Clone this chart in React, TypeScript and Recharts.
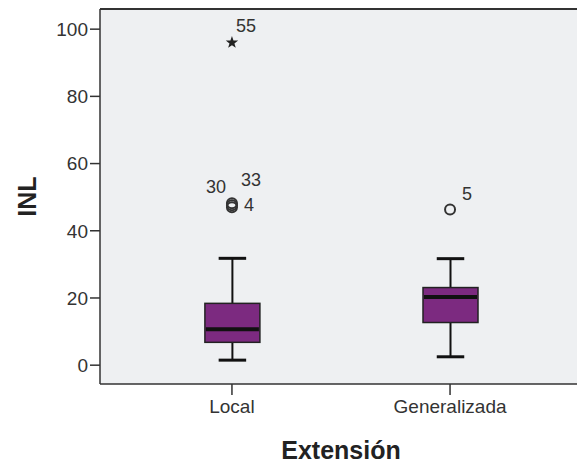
import { ComposedChart, Bar, Scatter, XAxis, YAxis, CartesianGrid } from 'recharts';

// Boxplot INL por Extensión (SPSS style)
const categories = ['Local', 'Generalizada'];
const whiskerLow = [1.5, 2.5];
const quartile1 = [6.8, 12.7];
const medians = [10.7, 20.3];
const quartile3 = [18.4, 23.1];
const whiskerHigh = [31.8, 31.7];

// outliers (case numbers as labelled in the plot)
const outlierGroup = ['Local', 'Local', 'Local', 'Local', 'Generalizada'];
const outlierValues = [96, 48.2, 47.6, 47.0, 46.3];
const outlierCases = ['55', '30', '33', '4', '5'];
const outlierExtreme = [true, false, false, false, false];

const yTicks = [0, 20, 40, 60, 80, 100];
const yDomain = [-5.6, 106];
// categories sit at 1 and 2 on a numeric x axis
const xDomain = [0.395, 2.605];
const xTicks = categories.map((_, i) => i + 1);

const data = categories.map((name, i) => ({
    pos: i + 1,
    name,
    low: whiskerLow[i],
    q1: quartile1[i],
    median: medians[i],
    q3: quartile3[i],
    high: whiskerHigh[i],
}));

const outliers = outlierValues.map((value, i) => ({
    pos: categories.indexOf(outlierGroup[i]) + 1,
    value,
    caseId: outlierCases[i],
    extreme: outlierExtreme[i],
}));

// where each case label sits relative to its marker
const labelOffset: Record<string, [number, number]> = {
    '55': [4, -11],
    '30': [-26, -10],
    '33': [9, -19],
    '4': [12, 4],
    '5': [12, -10],
};

const FONT = '"Liberation Sans", Arial, sans-serif';

const W = 577;
const H = 455;
const MARGIN = { top: 1, right: 3, bottom: 0, left: 0 };
const Y_AXIS_W = 92;
const X_AXIS_H = 79;

function starPath(cx: number, cy: number, r1: number, r2: number) {
    const pts: string[] = [];
    for (let k = 0; k < 10; k++) {
        const r = k % 2 === 0 ? r1 : r2;
        const a = -Math.PI / 2 + (k * Math.PI) / 5;
        pts.push(`${(cx + r * Math.cos(a)).toFixed(2)},${(cy + r * Math.sin(a)).toFixed(2)}`);
    }
    return `M${pts.join('L')}Z`;
}

function BoxShape(props: any) {
    const { x, y, width, height, payload } = props;
    const top = Math.min(y, y + height);
    const bottom = Math.max(y, y + height);
    const lo = payload.low;
    const hi = payload.high;
    const py = (v: number) => bottom - ((v - lo) / (hi - lo)) * (bottom - top);
    const cx = x + width / 2;
    const cap = width / 4;
    return (
        <g>
            <line x1={cx} x2={cx} y1={py(hi)} y2={py(payload.q3)} stroke="#111" strokeWidth={2} />
            <line x1={cx} x2={cx} y1={py(payload.q1)} y2={py(lo)} stroke="#111" strokeWidth={2} />
            <line x1={cx - cap} x2={cx + cap} y1={py(hi)} y2={py(hi)} stroke="#111" strokeWidth={3} />
            <line x1={cx - cap} x2={cx + cap} y1={py(lo)} y2={py(lo)} stroke="#111" strokeWidth={3} />
            <rect
                x={x}
                y={py(payload.q3)}
                width={width}
                height={py(payload.q1) - py(payload.q3)}
                fill="#7c2a80"
                stroke="#222"
                strokeWidth={1.5}
            />
            <line
                x1={x + 1}
                x2={x + width - 1}
                y1={py(payload.median)}
                y2={py(payload.median)}
                stroke="#111"
                strokeWidth={4}
            />
        </g>
    );
}

function OutlierMark(props: any) {
    const { cx, cy, payload } = props;
    if (cx == null || cy == null || isNaN(cx) || isNaN(cy)) return <g />;
    const [dx, dy] = labelOffset[payload.caseId] || [8, -8];
    return (
        <g>
            {payload.extreme ? (
                <path d={starPath(cx, cy, 6.5, 2.6)} fill="#222" />
            ) : (
                <circle cx={cx} cy={cy} r={5} fill="none" stroke="#333" strokeWidth={2} />
            )}
            <text x={cx + dx} y={cy + dy} fontSize={18} fontFamily={FONT} fill="#333">
                {payload.caseId}
            </text>
        </g>
    );
}

export default function App() {
    return (
        <div style={{ position: 'relative', width: W, height: H }}>
            <ComposedChart width={W} height={H} data={data} margin={MARGIN} style={{ fontFamily: FONT }}>
                <CartesianGrid fill="#eef0f2" horizontal={false} vertical={false} />
                <XAxis
                    dataKey="pos"
                    type="number"
                    domain={xDomain}
                    allowDataOverflow
                    ticks={xTicks}
                    tickFormatter={(v: number) => categories[v - 1] ?? ''}
                    height={X_AXIS_H}
                    tickSize={11}
                    tickMargin={5}
                    axisLine={{ stroke: '#333', strokeWidth: 1.5 }}
                    tickLine={{ stroke: '#333', strokeWidth: 1.5 }}
                    tick={{ fill: '#333', fontSize: 19, fontFamily: FONT }}
                    label={{
                        value: 'Extensión',
                        position: 'insideBottom',
                        offset: 4,
                        fill: '#222',
                        fontSize: 25,
                        fontWeight: 'bold',
                        fontFamily: FONT,
                    }}
                />
                <YAxis
                    type="number"
                    domain={yDomain}
                    allowDataOverflow
                    ticks={yTicks}
                    width={Y_AXIS_W}
                    tickSize={10}
                    tickMargin={2}
                    axisLine={{ stroke: '#333', strokeWidth: 1.5 }}
                    tickLine={{ stroke: '#333', strokeWidth: 1.5 }}
                    tick={{ fill: '#333', fontSize: 19, fontFamily: FONT }}
                    label={{
                        value: 'INL',
                        angle: -90,
                        position: 'insideLeft',
                        offset: 19,
                        style: { textAnchor: 'middle' },
                        fill: '#222',
                        fontSize: 25,
                        fontWeight: 'bold',
                        fontFamily: FONT,
                    }}
                />
                <Bar
                    dataKey={(d: any) => [d.low, d.high]}
                    barSize={55}
                    shape={BoxShape}
                    isAnimationActive={false}
                />
                <Scatter data={outliers} dataKey="value" shape={OutlierMark} isAnimationActive={false} />
            </ComposedChart>
            {/* top and right edges of the plot frame */}
            <div
                style={{
                    position: 'absolute',
                    left: MARGIN.left + Y_AXIS_W,
                    top: MARGIN.top - 1,
                    width: W - MARGIN.left - MARGIN.right - Y_AXIS_W + 1,
                    height: H - MARGIN.top - MARGIN.bottom - X_AXIS_H + 1,
                    borderTop: '2px solid #333',
                    borderRight: '2px solid #333',
                    boxSizing: 'border-box',
                    pointerEvents: 'none',
                }}
            />
        </div>
    );
}
